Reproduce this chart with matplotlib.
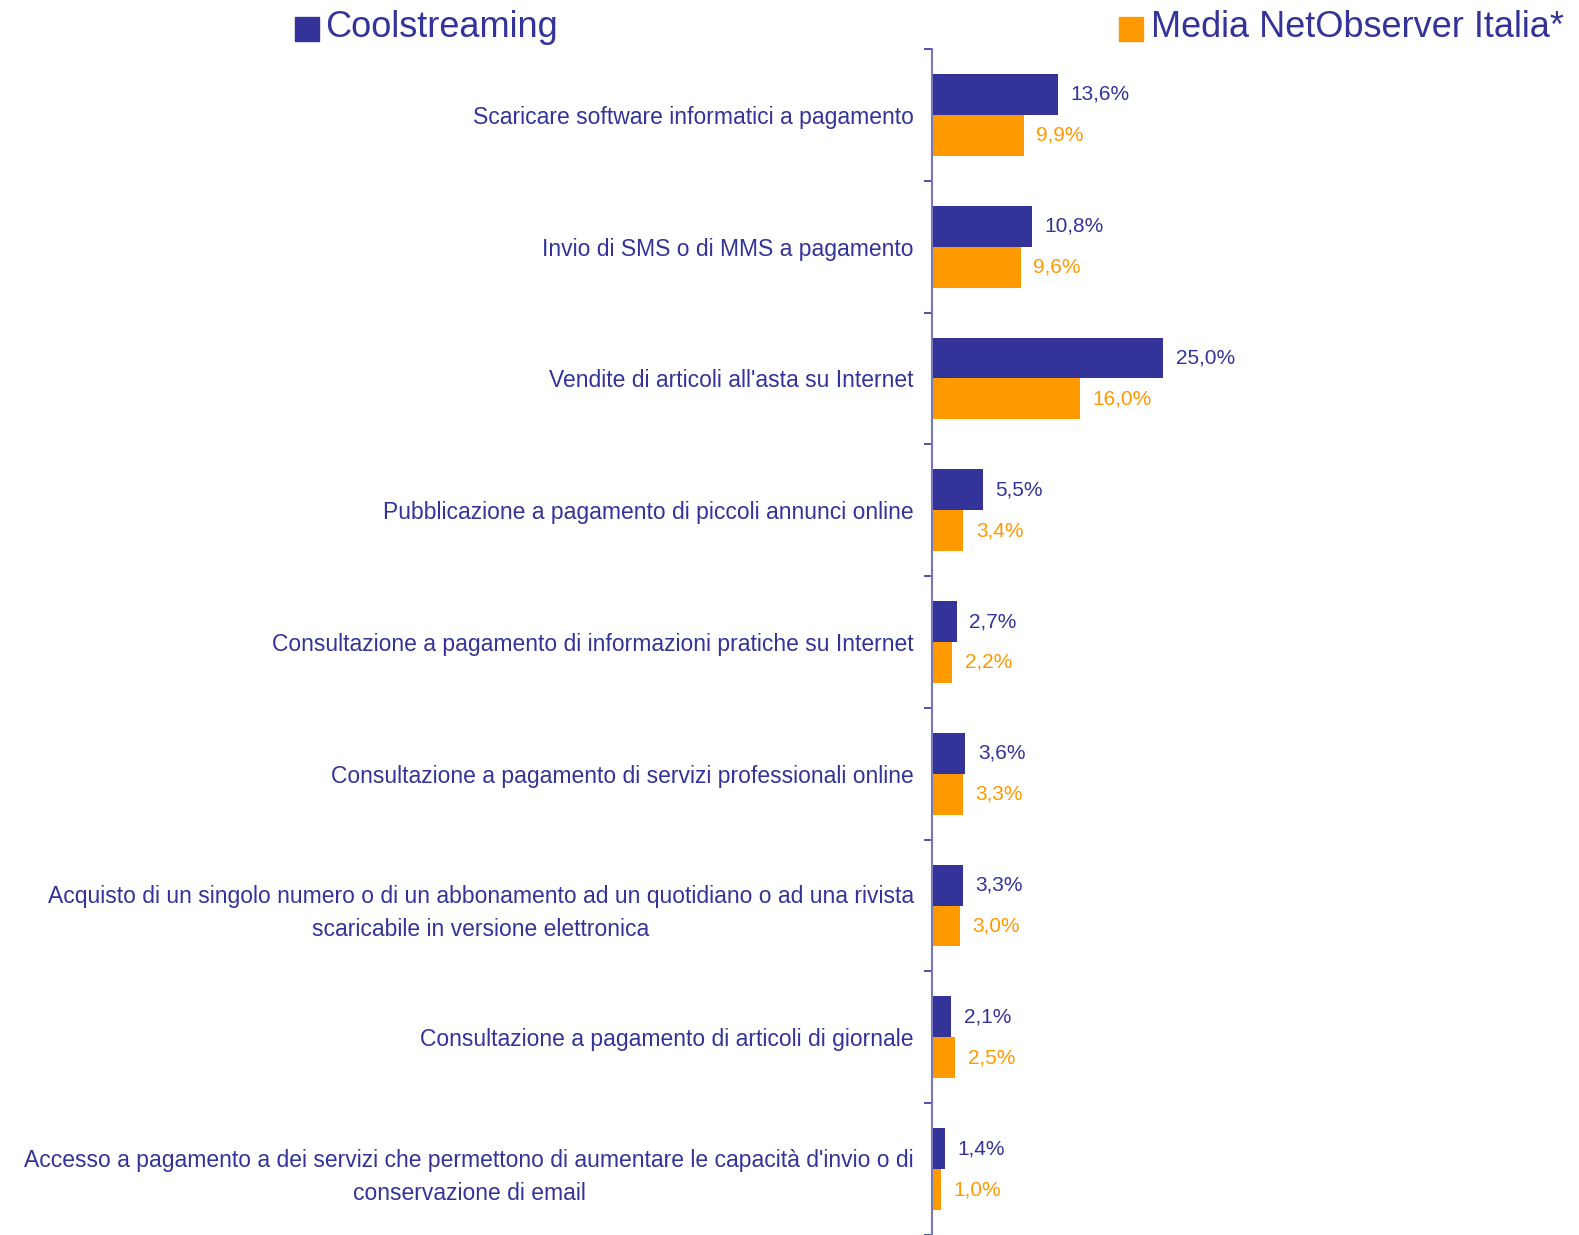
import matplotlib.pyplot as plt
import numpy as np
from matplotlib.patches import Rectangle

plt.rcParams['font.family'] = ['Liberation Sans', 'DejaVu Sans']

BLUE = '#333399'
ORANGE = '#FF9900'

categories = [
    "Scaricare software informatici a pagamento",
    "Invio di SMS o di MMS a pagamento",
    "Vendite di articoli all'asta su Internet",
    "Pubblicazione a pagamento di piccoli annunci online",
    "Consultazione a pagamento di informazioni pratiche su Internet",
    "Consultazione a pagamento di servizi professionali online",
    "Acquisto di un singolo numero o di un abbonamento ad un quotidiano o ad una rivista\nscaricabile in versione elettronica",
    "Consultazione a pagamento di articoli di giornale",
    "Accesso a pagamento a dei servizi che permettono di aumentare le capacità d'invio o di\nconservazione di email",
]
coolstreaming = [13.6, 10.8, 25.0, 5.5, 2.7, 3.6, 3.3, 2.1, 1.4]
media_italia = [9.9, 9.6, 16.0, 3.4, 2.2, 3.3, 3.0, 2.5, 1.0]
series_names = ["Coolstreaming", "Media NetObserver Italia*"]

W, H = 1579, 1235
fig = plt.figure(figsize=(W / 100, H / 100), dpi=100)
ax = fig.add_axes([932 / W, 0, 1 - 932 / W, 1 - 49 / H])

y = np.arange(len(categories))
bh = 0.31
b1 = ax.barh(y - bh / 2, coolstreaming, height=bh, color=BLUE)
b2 = ax.barh(y + bh / 2, media_italia, height=bh, color=ORANGE)

def fmt(v):
    return f"{v:.1f}".replace('.', ',') + "%"

ax.bar_label(b1, labels=[fmt(v) for v in coolstreaming], padding=9,
             color=BLUE, fontsize=15)
ax.bar_label(b2, labels=[fmt(v) for v in media_italia], padding=9,
             color=ORANGE, fontsize=15)

ax.set_ylim(len(categories) - 0.5, -0.5)
ax.set_xlim(0, 70)

# tick marks at category boundaries, labels at centres
ax.set_yticks(np.arange(len(categories) + 1) - 0.5)
ax.set_yticklabels([])
ax.tick_params(axis='y', which='major', length=6, width=1.2, color=BLUE)
ax.set_yticks(y, minor=True)
ax.set_yticklabels(categories, minor=True, fontsize=16.5, color=BLUE,
                   multialignment='center', linespacing=1.55)
ax.tick_params(axis='y', which='minor', length=0, pad=13)
ax.set_xticks([])

for s in ['top', 'right', 'bottom']:
    ax.spines[s].set_visible(False)
ax.spines['left'].set_color('#7777BB')
ax.spines['left'].set_linewidth(1.5)

# legend at the top
for (sx, tx, col, name) in [(295, 325, BLUE, series_names[0]),
                            (1119, 1151, ORANGE, series_names[1])]:
    fig.patches.append(Rectangle((sx / W, 1 - 41 / H), 24 / W, 24 / H,
                                 transform=fig.transFigure, color=col))
    fig.text(tx / W, 1 - 37 / H, name, fontsize=26, color=BLUE,
             ha='left', va='baseline')

fig.savefig('out.png', dpi=100)
